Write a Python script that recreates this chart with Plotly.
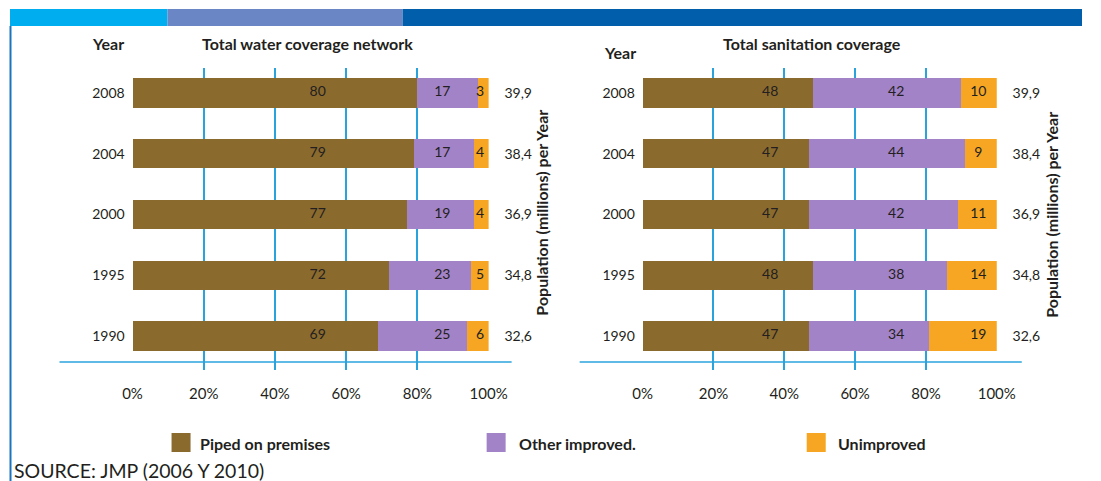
import plotly.graph_objects as go

W, H = 1101, 481

years = ['1990', '1995', '2000', '2004', '2008']
population = ['32,6', '34,8', '36,9', '38,4', '39,9']

# water coverage (%)
water_piped = [69, 72, 77, 79, 80]
water_other = [25, 23, 19, 17, 17]
water_unimproved = [6, 5, 4, 4, 3]

# sanitation coverage (%)
san_piped = [47, 48, 47, 47, 48]
san_other = [34, 38, 42, 44, 42]
san_unimproved = [19, 14, 11, 9, 10]

tick_vals = [0, 20, 40, 60, 80, 100]
tick_text = ['0%', '20%', '40%', '60%', '80%', '100%']

series_names = ['Piped on premises', 'Other improved.', 'Unimproved']
colors = ['#8b6a2e', '#a383c8', '#f6a623']
grid_blue = '#2aa3dc'
txt = '#231f20'
FONT = 'Lato'

# the page gets drawn a little narrower and shifted right in the snapshot,
# so horizontal pixel targets are corrected with this
SX, OX = 0.9734, 10.5


def px(x):
    return max(0.0, min(1.0, (x - OX) / SX / W))


def py(y):
    return 1 - y / H


fig = go.Figure()
year_idx = list(range(len(years)))


def add_chart(xa, ya, pop_axis, values, label_x):
    for vals, name, col, lx in zip(values, series_names, colors, label_x):
        fig.add_trace(go.Bar(
            y=years, x=vals, orientation='h', name=name,
            marker=dict(color=col, line=dict(width=0)),
            width=0.48, xaxis=xa, yaxis=ya, showlegend=False,
            hoverinfo='skip'
        ))
        # value labels (fixed column per series, like the original)
        fig.add_trace(go.Scatter(
            y=years, x=[lx] * len(years), mode='text',
            text=[str(v) for v in vals], textposition='middle center',
            textfont=dict(family=FONT, size=14, color=txt),
            xaxis=xa, yaxis=ya, showlegend=False, cliponaxis=False,
            hoverinfo='skip'
        ))
    # invisible trace so the right-hand population axis gets drawn
    fig.add_trace(go.Scatter(
        y=year_idx, x=[50] * len(years), mode='markers',
        marker=dict(opacity=0), xaxis=xa, yaxis=pop_axis,
        showlegend=False, hoverinfo='skip'
    ))


add_chart('x', 'y', 'y3', [water_piped, water_other, water_unimproved],
          [52, 87, 97.6])
add_chart('x2', 'y2', 'y4', [san_piped, san_other, san_unimproved],
          [36, 71.6, 94.8])

fig.update_layout(barmode='stack')

y_dom = [py(370), py(68)]
y_range = [-0.56, 4.41]
xaxis_common = dict(
    range=[0, 100], tickvals=tick_vals, ticktext=tick_text,
    showgrid=True, gridcolor=grid_blue, gridwidth=1.5,
    zeroline=False, showline=False, ticks='',
    ticklabelstandoff=13,
    tickfont=dict(family=FONT, size=15, color=txt),
    fixedrange=True,
)
yaxis_common = dict(
    type='category', categoryorder='array', categoryarray=years,
    range=y_range, domain=y_dom, showgrid=False, zeroline=False,
    showline=False, ticks='outside', ticklen=4, tickcolor='rgba(0,0,0,0)',
    tickfont=dict(family=FONT, size=14, color=txt), fixedrange=True,
)
# population (millions) per year shown as right-hand tick labels
pop_axis = dict(
    type='linear', range=y_range, side='right',
    tickvals=year_idx, ticktext=population,
    showgrid=False, zeroline=False, showline=False,
    ticks='outside', ticklen=12, tickcolor='rgba(0,0,0,0)',
    tickfont=dict(family=FONT, size=14, color=txt), fixedrange=True,
)
fig.update_layout(
    xaxis=dict(domain=[px(133), px(489)], anchor='y', **xaxis_common),
    xaxis2=dict(domain=[px(643), px(997)], anchor='y2', **xaxis_common),
    yaxis=dict(anchor='x', **yaxis_common),
    yaxis2=dict(anchor='x2', **yaxis_common),
    yaxis3=dict(anchor='x', overlaying='y', **pop_axis),
    yaxis4=dict(anchor='x2', overlaying='y2', **pop_axis),
)

shapes = [
    # header band
    dict(type='rect', xref='paper', yref='paper', x0=px(8), x1=px(168),
         y0=py(26), y1=py(9), fillcolor='#00adef', line=dict(width=0)),
    dict(type='rect', xref='paper', yref='paper', x0=px(168), x1=px(403),
         y0=py(26), y1=py(9), fillcolor='#6b86c5', line=dict(width=0)),
    dict(type='rect', xref='paper', yref='paper', x0=px(403), x1=px(1101),
         y0=py(26), y1=py(9), fillcolor='#005eab', line=dict(width=0)),
    # left border
    dict(type='line', xref='paper', yref='paper', x0=px(11), x1=px(11),
         y0=py(26), y1=py(481), line=dict(color='#1a75bc', width=2)),
    # baseline under each chart
    dict(type='line', xref='paper', yref='paper', x0=px(60), x1=px(512),
         y0=py(362), y1=py(362), line=dict(color=grid_blue, width=1.5)),
    dict(type='line', xref='paper', yref='paper', x0=px(580), x1=px(1022),
         y0=py(362), y1=py(362), line=dict(color=grid_blue, width=1.5)),
]

annotations = [
    dict(text='<b>Year</b>', x=px(108), y=py(43)),
    dict(text='<b>Total water coverage network</b>', x=px(308), y=py(43)),
    dict(text='<b>Year</b>', x=px(620), y=py(52)),
    dict(text='<b>Total sanitation coverage</b>', x=px(812), y=py(43)),
    dict(text='<b>Population (millions) per Year</b>', x=px(542), y=py(213),
         textangle=-90),
    dict(text='<b>Population (millions) per Year</b>', x=px(1051), y=py(215),
         textangle=-90),
]
for a in annotations:
    a.update(xref='paper', yref='paper', showarrow=False,
             xanchor='center', yanchor='middle',
             font=dict(family=FONT, size=16, color=txt))

# legend drawn by hand: coloured squares + bold labels
legend_pos = [(172, 198), (487, 517), (807, 836)]
for (sx, tx), name, col in zip(legend_pos, series_names, colors):
    shapes.append(dict(type='rect', xref='paper', yref='paper',
                       x0=px(sx), x1=px(sx + 19), y0=py(452), y1=py(433),
                       fillcolor=col, line=dict(width=0)))
    annotations.append(dict(text='<b>' + name + '</b>', x=px(tx), y=py(443),
                            xref='paper', yref='paper', xanchor='left',
                            yanchor='middle', showarrow=False,
                            font=dict(family=FONT, size=16, color=txt)))

annotations.append(dict(text='SOURCE: JMP (2006 Y 2010)', x=px(12), y=py(470),
                        xref='paper', yref='paper', xanchor='left',
                        yanchor='middle', showarrow=False,
                        font=dict(family=FONT, size=19.5, color=txt)))

fig.update_layout(
    width=W, height=H, autosize=False,
    margin=dict(l=0, r=0, t=0, b=0),
    plot_bgcolor='white', paper_bgcolor='white',
    shapes=shapes, annotations=annotations,
    showlegend=False,
)

# page margin and scrollbars off so the 1101x481 figure fits the window exactly
page_fix = ("document.body.style.margin='0px';"
            "document.body.style.overflow='hidden';"
            "document.documentElement.style.overflow='hidden';")
fig.write_html("out.html", post_script=page_fix,
               config={'displayModeBar': False, 'responsive': False})
